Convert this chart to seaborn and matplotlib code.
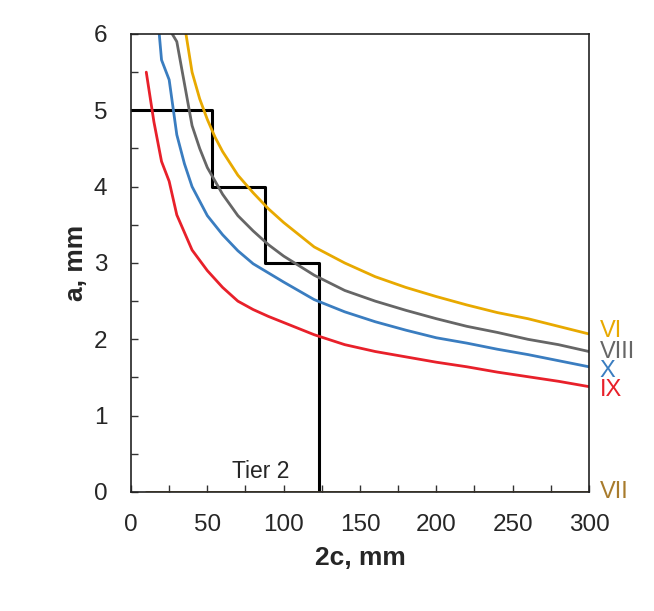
import matplotlib
matplotlib.use("Agg")
import matplotlib.pyplot as plt
import numpy as np
import pandas as pd
import seaborn as sns

# curve data (2c in mm, a in mm)
vi_c = [36, 40, 45, 50, 55, 60, 70, 80, 90, 100, 120, 140, 160, 180, 200, 220, 240, 260, 280, 300]
vi_a = [6.0, 5.5, 5.15, 4.88, 4.65, 4.46, 4.15, 3.92, 3.71, 3.53, 3.21, 3.0, 2.82, 2.68, 2.56, 2.45, 2.35, 2.27, 2.17, 2.07]

viii_c = [27, 30, 35, 40, 45, 50, 60, 70, 80, 90, 100, 120, 140, 160, 180, 200, 220, 240, 260, 280, 300]
viii_a = [6.0, 5.9, 5.35, 4.8, 4.5, 4.25, 3.9, 3.62, 3.42, 3.24, 3.09, 2.84, 2.64, 2.5, 2.38, 2.27, 2.17, 2.09, 2.0, 1.93, 1.84]

x_c = [18.5, 20, 25, 30, 35, 40, 50, 60, 70, 80, 90, 100, 120, 140, 160, 180, 200, 220, 240, 260, 280, 300]
x_a = [6.0, 5.66, 5.4, 4.68, 4.3, 4.0, 3.62, 3.37, 3.16, 2.99, 2.87, 2.75, 2.52, 2.36, 2.23, 2.12, 2.02, 1.95, 1.87, 1.8, 1.72, 1.64]

ix_c = [10, 15, 20, 25, 30, 40, 50, 60, 70, 80, 90, 100, 120, 140, 160, 180, 200, 220, 240, 260, 280, 300]
ix_a = [5.5, 4.85, 4.33, 4.07, 3.63, 3.17, 2.9, 2.68, 2.5, 2.39, 2.3, 2.22, 2.06, 1.93, 1.84, 1.77, 1.7, 1.64, 1.57, 1.51, 1.45, 1.38]

vii_c = [10, 300]
vii_a = [0, 0]

# Tier 2 acceptance steps
tier_c = [0, 53, 88, 123]
tier_a = [5, 4, 3, 0]

series = ["VI", "VIII", "X", "IX", "VII"]
colors = ["#E8A900", "#666666", "#3A7DC0", "#E8202A", "#A87B2C"]
label_a = [2.11, 1.83, 1.58, 1.34, 0.0]

frames = []
for name, c, a in zip(series, [vi_c, viii_c, x_c, ix_c, vii_c], [vi_a, viii_a, x_a, ix_a, vii_a]):
    frames.append(pd.DataFrame({"c": c, "a": a, "curve": name}))
df = pd.concat(frames, ignore_index=True)

sns.set_style("ticks")
plt.rcParams["font.family"] = ["Liberation Sans", "DejaVu Sans"]

fig = plt.figure(figsize=(6.54, 6.11), dpi=100)
ax = fig.add_axes([0.2003, 0.1948, 0.7003, 0.7496])

ax.plot(tier_c, tier_a, drawstyle="steps-post", color="black", lw=2.2)
sns.lineplot(data=df, x="c", y="a", hue="curve", palette=dict(zip(series, colors)),
             estimator=None, sort=False, legend=False, lw=2, ax=ax)

for name, col, y in zip(series, colors, label_a):
    ax.text(307, y, name, color=col, fontsize=17, va="center", ha="left", clip_on=False)

ax.text(104, 0.27, "Tier 2", fontsize=16.5, ha="right", va="center")

ax.set_xlim(0, 300)
ax.set_ylim(0, 6)
ax.set_xticks(np.arange(0, 301, 50))
ax.set_xticks(np.arange(0, 301, 25), minor=True)
ax.set_yticks(np.arange(0, 7, 1))
ax.set_yticks(np.arange(0, 6.01, 0.5), minor=True)
ax.tick_params(which="both", direction="in", labelsize=17.5, width=1, length=5, color="#333333")
ax.tick_params(axis="x", pad=16)
ax.tick_params(axis="y", pad=17)
for s in ax.spines.values():
    s.set_linewidth(1.2)
    s.set_color("#222222")

ax.set_xlabel("2c, mm", fontsize=19, fontweight="bold", labelpad=7)
ax.set_ylabel("a, mm", fontsize=19, fontweight="bold", labelpad=4)

fig.savefig("out.png", dpi=100)
